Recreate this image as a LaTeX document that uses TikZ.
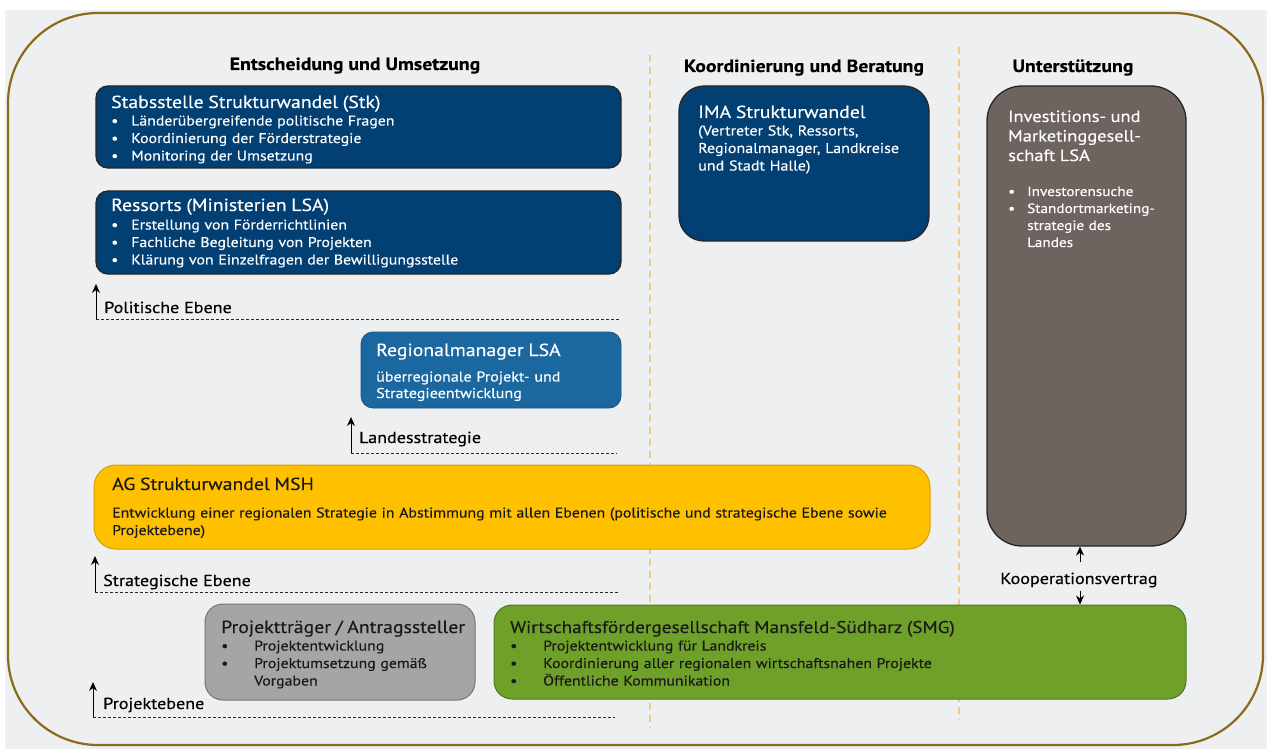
\documentclass[tikz,border=0pt]{standalone}
\usepackage{fontspec}
\setmainfont[FakeStretch=1.13,FakeBold=0.3]{PT Sans}
\usetikzlibrary{arrows.meta,positioning}

\definecolor{hintergrund}{HTML}{EEEFF1}
\definecolor{rahmen}{HTML}{8B6A1A}
\definecolor{lsablau}{HTML}{023F73}
\definecolor{regblau}{HTML}{1B68A0}
\definecolor{imgbraun}{HTML}{6D645F}
\definecolor{aggelb}{HTML}{FFC000}
\definecolor{agrand}{HTML}{D4A10A}
\definecolor{ptgrau}{HTML}{A5A5A5}
\definecolor{smggruen}{HTML}{6FA02A}
\definecolor{smgrand}{HTML}{4F7A1C}
\definecolor{trennlinie}{HTML}{F3C98B}

\newcommand\titel{\fontsize{17.5}{17.5}\selectfont}
\newcommand\bul{\makebox[20pt][l]{\textbullet}}
\newcommand\bulw{\makebox[33pt][l]{\textbullet}}

\tikzset{
	box/.style={draw=black!85, line width=1.3pt, rounded corners=12pt, inner sep=0pt},
	txt/.style={anchor=base west, inner sep=0pt, align=left, text width=#1,
		font=\fontsize{14}{17.5}\selectfont},
	txt/.default=520pt,
	head/.style={anchor=base, inner sep=0pt, font=\bfseries\fontsize{17.5}{20}\selectfont},
	ebene/.style={anchor=base west, inner sep=0pt, font=\fontsize{16}{19}\selectfont},
	ebenenlinie/.style={black!85, line width=0.9pt, dash pattern=on 3pt off 2pt},
	trenn/.style={trennlinie, line width=1.2pt, dash pattern=on 7pt off 5pt},
	pfeil/.style={->, line width=1pt},
}

\begin{document}
\begin{tikzpicture}[x=1pt,y=-1pt,>={Stealth[length=9pt,width=8pt]}]

	% Hintergrund und Rahmen
	% ----------------------
	\useasboundingbox (0,0) rectangle (1267,749);
	\fill[white] (0,0) rectangle (1267,749);
	\fill[hintergrund] (5,10) rectangle (1267,749);
	\draw[rahmen, line width=2.2pt, rounded corners=90pt] (8,13) rectangle (1263,745);

	% Spalten
	\draw[trenn] (650,55) -- (650,728);
	\draw[trenn] (959,47) -- (959,720);

	\node[head] (hEnt) at (355,70) {Entscheidung und Umsetzung};
	\node[head] (hKoo) at (804,72) {Koordinierung und Beratung};
	\node[head] (hUnt) at (1073,72) {Unterstützung};

	% Politische Ebene
	% ----------------
	\node[box, fill=lsablau, minimum width=525pt, minimum height=82pt] (stk) at (358.5,127) {};
	\node[txt, text=white] (stkT) at (111,108)
		{{\titel Stabsstelle Strukturwandel (Stk)}\\
		 \bul Länderübergreifende politische Fragen\\
		 \bul Koordinierung der Förderstrategie\\
		 \bul Monitoring der Umsetzung};

	\node[box, fill=lsablau, minimum width=525pt, minimum height=83pt] (res) at (358.5,232.5) {};
	\node[txt, text=white] (resT) at (111,211)
		{{\titel Ressorts (Ministerien LSA)}\\[1pt]
		 \bul Erstellung von Förderrichtlinien\\
		 \bul Fachliche Begleitung von Projekten\\
		 \bul Klärung von Einzelfragen der Bewilligungsstelle};

	\coordinate (polS) at (96,319);
	\coordinate (polO) at (96,284);
	\coordinate (polE) at (620,319);
	\draw[pfeil] (polS) -- (polO);
	\draw[ebenenlinie] (polS) -- (polE);
	\node[ebene] (polL) at (104,313) {Politische Ebene};

	% Koordinierung
	\node[box, fill=lsablau, rounded corners=25pt, minimum width=250pt, minimum height=155pt] (ima) at (804,163.5) {};
	\node[txt=225pt, text=white, font=\fontsize{14.2}{17.5}\selectfont] (imaT) at (698,118)
		{{\titel IMA Strukturwandel}\\
		 (Vertreter Stk, Ressorts,\\
		 Regionalmanager, Landkreise\\
		 und Stadt Halle)};

	% Unterstuetzung
	\node[box, fill=imgbraun, rounded corners=35pt, minimum width=199pt, minimum height=460pt] (img) at (1086.5,316) {};
	\node[txt=175pt, text=white, font=\fontsize{13.5}{17}\selectfont] (imgT) at (1008,122)
		{{\fontsize{16.3}{17}\selectfont Investitions- und}\\[2.5pt]
		 {\fontsize{16.3}{17}\selectfont Marketinggesell-}\\[2.5pt]
		 {\fontsize{16.3}{17}\selectfont schaft LSA}\\[18pt]
		 \makebox[19pt][l]{\textbullet}Investorensuche\\
		 \makebox[19pt][l]{\textbullet}Standortmarketing-\\
		 \hspace*{19pt}strategie des\\
		 \hspace*{19pt}Landes};

	% Landesstrategie
	% ---------------
	\node[box, draw=regblau!80!black, line width=0.8pt, fill=regblau, minimum width=260pt, minimum height=76pt] (reg) at (491,370) {};
	\node[txt=240pt, text=white, font=\fontsize{14.2}{16.5}\selectfont] (regT) at (376,356)
		{{\titel Regionalmanager LSA}\\[9pt]
		 überregionale Projekt- und\\
		 Strategieentwicklung};

	\coordinate (lanS) at (351,453);
	\coordinate (lanO) at (351,417);
	\coordinate (lanE) at (617,453);
	\draw[pfeil] (lanS) -- (lanO);
	\draw[ebenenlinie] (lanS) -- (lanE);
	\node[ebene] (lanL) at (359,443) {Landesstrategie};

	% Strategische Ebene
	% ------------------
	\node[box, draw=agrand, line width=1pt, fill=aggelb, rounded corners=22pt, minimum width=836pt, minimum height=84pt] (ag) at (512,507) {};
	\node[txt=830pt, text=black!90] (agT) at (112,490)
		{{\titel AG Strukturwandel MSH}\\[10pt]
		 Entwicklung einer regionalen Strategie in Abstimmung mit allen Ebenen (politische und strategische Ebene sowie\\
		 Projektebene)};

	\coordinate (strS) at (95,592);
	\coordinate (strO) at (95,556);
	\coordinate (strE) at (620,592);
	\draw[pfeil] (strS) -- (strO);
	\draw[ebenenlinie] (strS) -- (strE);
	\node[ebene] (strL) at (103,586) {Strategische Ebene};

	% Projektebene
	% ------------
	\node[box, draw=black!55, line width=1pt, fill=ptgrau, rounded corners=18pt, minimum width=270pt, minimum height=96pt] (pt) at (340,652) {};
	\node[txt=250pt, text=black!90] (ptT) at (221,633)
		{{\titel Projektträger / Antragssteller}\\
		 \bulw Projektentwicklung\\
		 \bulw Projektumsetzung gemäß\\
		 \hspace*{33pt}Vorgaben};

	\node[box, draw=smgrand, line width=1pt, fill=smggruen, rounded corners=18pt, minimum width=692pt, minimum height=94pt] (smg) at (840,652) {};
	\node[txt=660pt, text=black!90] (smgT) at (510,633)
		{{\fontsize{17}{17.5}\selectfont Wirtschaftsfördergesellschaft Mansfeld-Südharz (SMG)}\\
		 \bulw Projektentwicklung für Landkreis\\
		 \bulw Koordinierung aller regionalen wirtschaftsnahen Projekte\\
		 \bulw Öffentliche Kommunikation};

	\coordinate (proS) at (93,717);
	\coordinate (proO) at (93,682);
	\coordinate (proE) at (615,717);
	\draw[pfeil] (proS) -- (proO);
	\draw[ebenenlinie] (proS) -- (proE);
	\node[ebene] (proL) at (103,709) {Projektebene};

	% Kooperation
	\node[anchor=base, inner sep=0pt, font=\fontsize{16}{18}\selectfont] (koop) at (1079,584) {Kooperationsvertrag};
	\coordinate (koopO) at (1080,562);
	\coordinate (koopU) at (1080,591);
	\draw[pfeil] (koopO) -- (koopO |- img.south);
	\draw[pfeil] (koopU) -- (koopU |- smg.north);

\end{tikzpicture}
\end{document}
